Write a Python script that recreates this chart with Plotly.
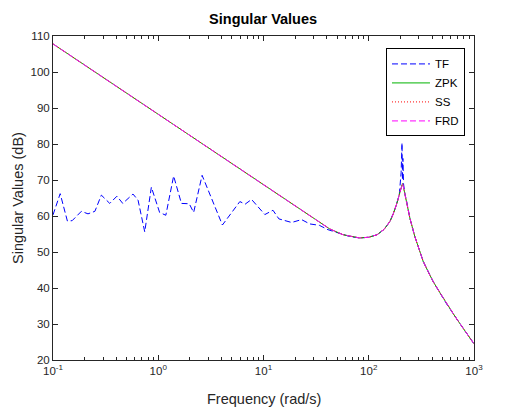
import plotly.graph_objects as go

# ---- data ----
w_sys = [0.1, 1, 10, 17.8, 27.5, 42.6, 57, 70, 82, 100, 120, 140, 159, 170, 177, 186,
         195, 202, 206, 209, 212, 218, 229, 246, 274, 300, 329, 370, 409, 470, 549,
         640, 735, 850, 1000]
mag_sys = [107.8, 88.2, 68.6, 63.6, 59.9, 56.4, 54.8, 54.2, 53.9, 54.1, 54.8, 56.3, 58.5,
           60.4, 61.8, 63.7, 65.9, 67.6, 68.5, 69.0, 68.5, 66.8, 64.1, 59.4, 54.3, 50.7,
           47.4, 44.3, 41.8, 38.9, 35.6, 32.7, 30.1, 27.5, 24.5]

w_tf = [0.100, 0.117, 0.137, 0.152, 0.186, 0.215, 0.250, 0.288, 0.346, 0.405, 0.46,
        0.575, 0.643, 0.744, 0.86, 1.03, 1.18, 1.40, 1.66, 1.97, 2.17, 2.61, 4.07,
        5.96, 6.7, 7.7, 10.3, 12.3, 14, 18.5, 23, 27.5, 34, 41, 54, 66, 82, 100, 120,
        140, 159, 177, 195, 203, 207, 209, 211, 214, 220, 229, 246, 274, 329, 409,
        549, 735, 1000]
mag_tf = [60.3, 66.2, 58.6, 58.7, 61.3, 60.6, 61.3, 65.8, 63.5, 65.5, 63.5, 66.1, 64.4,
          55.6, 68.0, 61.0, 60.2, 71.1, 63.5, 63.4, 61.0, 71.3, 57.5, 64.0, 63.3, 64.6,
          60.4, 61.6, 59.2, 58.2, 59.0, 57.8, 57.4, 56.2, 55.1, 54.3, 53.9, 54.1, 54.8,
          56.3, 58.5, 61.8, 65.9, 72.0, 80.3, 70.0, 76.0, 69.0, 66.3, 64.1, 59.4, 54.3,
          47.4, 41.8, 35.6, 30.1, 24.5]

x_tickvals = [0.1, 1, 10, 100, 1000]
x_ticktext = ["10<sup>-1</sup>", "10<sup>0</sup>", "10<sup>1</sup>", "10<sup>2</sup>", "10<sup>3</sup>"]
y_tickvals = [20, 30, 40, 50, 60, 70, 80, 90, 100, 110]
minor_vals = [m * d for d in [0.1, 1, 10, 100] for m in range(2, 10)]

FONT = "Liberation Sans, Arial, sans-serif"
AX = "#262626"
W, H = 521, 410

fig = go.Figure()
fig.add_trace(go.Scatter(x=w_tf, y=mag_tf, name="TF", mode="lines",
                         line=dict(color="#0000ff", width=1, dash="6px,3px")))
fig.add_trace(go.Scatter(x=w_sys, y=mag_sys, name="ZPK", mode="lines",
                         line=dict(color="#00b400", width=1)))
fig.add_trace(go.Scatter(x=w_sys, y=mag_sys, name="SS", mode="lines",
                         line=dict(color="#ff0000", width=1, dash="1px,2px")))
fig.add_trace(go.Scatter(x=w_sys, y=mag_sys, name="FRD", mode="lines",
                         line=dict(color="#ff00ff", width=1, dash="6px,3px")))

fig.update_layout(
    width=W, height=H,
    margin=dict(l=53, r=47, t=36, b=50),
    paper_bgcolor="white", plot_bgcolor="white",
    font=dict(family=FONT, size=11, color=AX),
    title=dict(text="<b>Singular Values</b>", x=0.505, xanchor="center",
               y=1 - 19 / H, yanchor="middle",
               font=dict(family=FONT, size=14.5, color="#000000")),
    showlegend=True,
    legend=dict(x=0.9786, xanchor="right", y=0.9617, yanchor="top",
                bgcolor="white", bordercolor="#000000", borderwidth=1,
                font=dict(family=FONT, size=11.5, color="#000000"),
                itemwidth=38, tracegroupgap=0),
    xaxis=dict(type="log", range=[-1, 3], tickmode="array", tickvals=x_tickvals,
               ticktext=x_ticktext, ticks="inside", ticklen=5, tickcolor=AX,
               showline=True, linecolor=AX, linewidth=1, mirror="ticks",
               showgrid=False, zeroline=False,
               tickfont=dict(family=FONT, size=11.5, color=AX),
               minor=dict(tickmode="array", tickvals=minor_vals, ticks="inside",
                          ticklen=3, tickcolor=AX, showgrid=False)),
    yaxis=dict(range=[20, 110], tickmode="array", tickvals=y_tickvals,
               ticks="inside", ticklen=5, tickcolor=AX,
               showline=True, linecolor=AX, linewidth=1, mirror="ticks",
               showgrid=False, zeroline=False,
               tickfont=dict(family=FONT, size=11.5, color=AX)),
    annotations=[
        dict(text="Frequency (rad/s)", xref="paper", yref="paper", x=0.5, y=0,
             xanchor="center", yanchor="middle", yshift=-39, showarrow=False,
             font=dict(family=FONT, size=14.5, color=AX)),
        dict(text="Singular Values (dB)", xref="paper", yref="paper", x=0, y=0.5,
             xanchor="center", yanchor="middle", xshift=-35, textangle=-90,
             showarrow=False, font=dict(family=FONT, size=14.5, color=AX)),
    ],
)

fig.write_html("out.html",
               config={"displayModeBar": False},
               post_script="document.body.style.margin='0';document.body.style.overflow='hidden';")
